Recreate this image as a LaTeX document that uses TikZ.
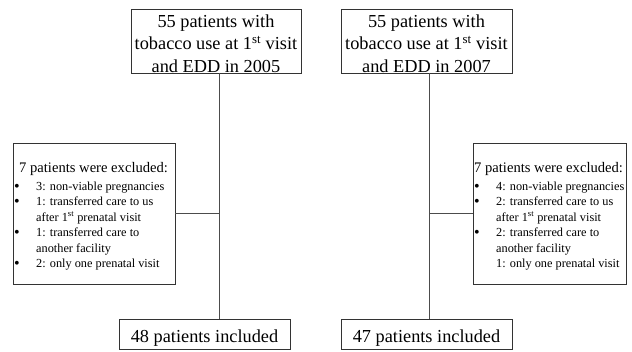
\documentclass[tikz,border=0pt]{standalone}
\usepackage{fontspec}
\setmainfont{Liberation Serif}
\tikzset{
  box/.style={draw=black!80, line width=0.9pt, inner sep=0pt, fill=white},
  conn/.style={draw=black!70, line width=0.9pt},
  big/.style={inner sep=0pt, anchor=base, font=\fontsize{18.3}{22}\selectfont},
  head/.style={inner sep=0pt, anchor=base west, font=\fontsize{14.6}{17}\selectfont},
  item/.style={inner sep=0pt, anchor=base west, font=\fontsize{12.3}{15}\selectfont},
  bul/.style={inner sep=0pt, anchor=base, font=\fontsize{16}{15}\selectfont},
}
\begin{document}
\begin{tikzpicture}[x=1pt, y=-1pt]
\useasboundingbox (0,0) rectangle (632,351);
% junctions
\coordinate (j1) at (219,213.5);
\coordinate (j2) at (429,213.5);
% boxes
\node[box, minimum width=170pt, minimum height=64pt] (t1) at (216,41) {};
\node[box, minimum width=171pt, minimum height=64pt] (t2) at (426.5,41) {};
\node[box, minimum width=171pt, minimum height=30pt] (b1) at (204.5,334) {};
\node[box, minimum width=171pt, minimum height=30pt] (b2) at (426.5,334) {};
\node[box, minimum width=162pt, minimum height=141pt] (e1) at (94,213.5) {};
\node[box, minimum width=153pt, minimum height=141pt] (e2) at (549.5,213.5) {};
% connectors
\draw[conn] (t1.south -| j1) -- (b1.north -| j1);
\draw[conn] (e1.east |- j1) -- (j1);
\draw[conn] (t2.south -| j2) -- (b2.north -| j2);
\draw[conn] (e2.west |- j2) -- (j2);
% top texts
\node[big] (t1a) at (216,27) {55 patients with};
\node[big] (t1b) at (216,49.5) {tobacco use at 1\textsuperscript{st} visit};
\node[big] (t1c) at (216,72) {and EDD in 2005};
\node[big] (t2a) at (426.5,27) {55 patients with};
\node[big] (t2b) at (426.5,49.5) {tobacco use at 1\textsuperscript{st} visit};
\node[big] (t2c) at (426.5,72) {and EDD in 2007};
% bottom texts
\node[big] (b1t) at (204.5,342.7) {48 patients included};
\node[big] (b2t) at (426.5,342.7) {47 patients included};
% left exclusion box
\node[head] (e1h) at (19,172) {7 patients were excluded:};
\node[item] (e1a) at (36,190) {3: non-viable pregnancies};
\node[item] (e1b) at (36,205.5) {1: transferred care to us};
\node[item] (e1c) at (36,221) {after 1\textsuperscript{st} prenatal visit};
\node[item] (e1d) at (36,236.5) {1: transferred care to};
\node[item] (e1e) at (36,252) {another facility};
\node[item] (e1f) at (36,267.5) {2: only one prenatal visit};
\foreach \y/\n in {190/a,205.5/b,236.5/d,267.5/f}
  \node[bul] (e1bul\n) at (17,\y+1) {•};
% right exclusion box
\node[head] (e2h) at (474,172) {7 patients were excluded:};
\node[item] (e2a) at (496,190) {4: non-viable pregnancies};
\node[item] (e2b) at (496,205.5) {2: transferred care to us};
\node[item] (e2c) at (496,221) {after 1\textsuperscript{st} prenatal visit};
\node[item] (e2d) at (496,236.5) {2: transferred care to};
\node[item] (e2e) at (496,252) {another facility};
\node[item] (e2f) at (496,267.5) {1: only one prenatal visit};
\foreach \y/\n in {190/a,205.5/b,236.5/d}
  \node[bul] (e2bul\n) at (477,\y+1) {•};
\end{tikzpicture}
\end{document}
